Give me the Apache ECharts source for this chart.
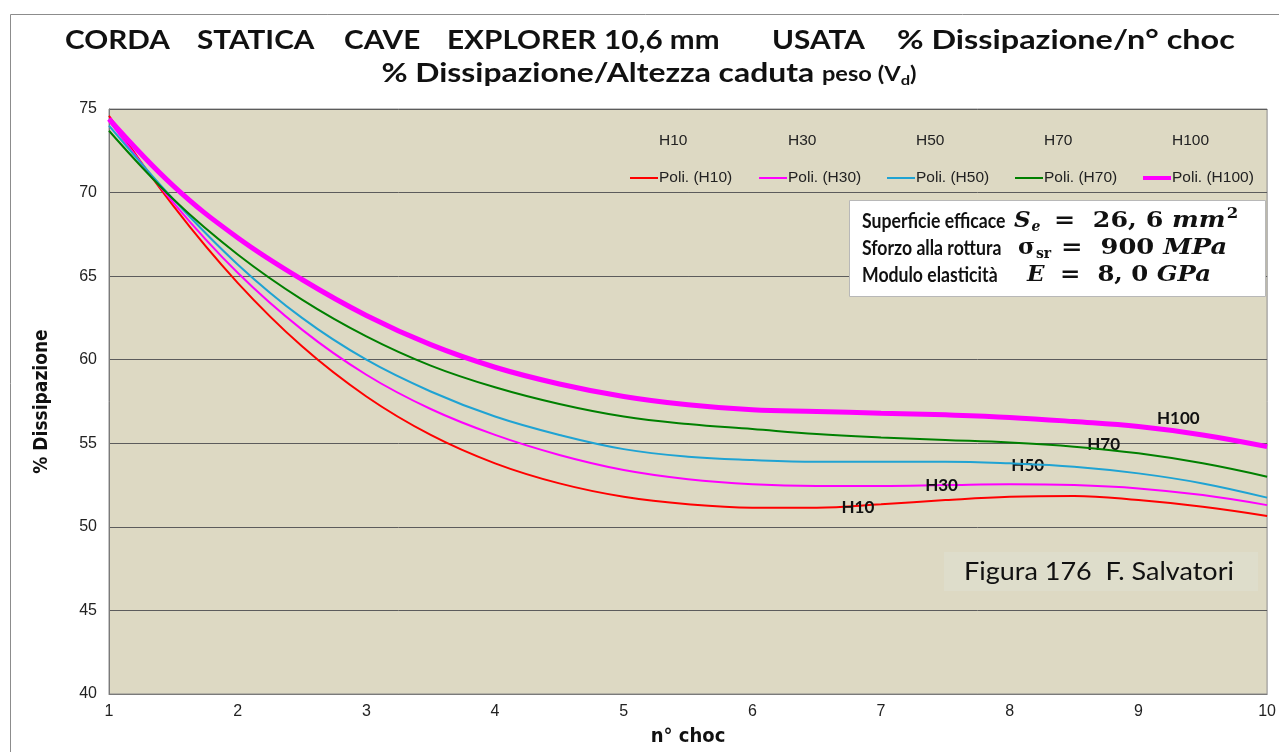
<!DOCTYPE html>
<html><head><meta charset="utf-8">
<script src="https://cdn.jsdelivr.net/npm/echarts@6/dist/echarts.min.js"></script>
<style>html,body{margin:0;padding:0;background:#fff}#c{width:1279px;height:752px}</style>
</head><body><div id="c"></div>
<script>
const xs = [1,1.5,2,2.5,3,3.5,4,4.5,5,5.5,6,6.5,7,7.5,8,8.5,9,9.5,10];
const H10  = [74.6,69.2,64.6,60.8,57.8,55.5,53.8,52.6,51.8,51.35,51.15,51.15,51.35,51.6,51.8,51.85,51.6,51.2,50.65];
const H30  = [74.3,69.4,65.2,61.8,59.1,57.05,55.5,54.3,53.4,52.85,52.55,52.45,52.45,52.5,52.55,52.5,52.3,51.9,51.3];
const H50  = [74.0,69.6,65.7,62.5,60.0,58.1,56.6,55.5,54.65,54.2,54.0,53.9,53.9,53.9,53.8,53.6,53.2,52.6,51.75];
const H70  = [73.7,69.6,66.3,63.6,61.4,59.65,58.35,57.35,56.6,56.15,55.85,55.55,55.35,55.2,55.05,54.8,54.4,53.8,53.0];
const H100 = [74.4,70.4,67.3,64.8,62.65,60.9,59.55,58.55,57.8,57.3,57.0,56.9,56.8,56.7,56.55,56.3,56.0,55.5,54.8];
const seriesNames = ['H10','H30','H50','H70','H100'];
const trendNames = ['Poli. (H10)','Poli. (H30)','Poli. (H50)','Poli. (H70)','Poli. (H100)'];
const seriesValues = [H10,H30,H50,H70,H100];
const labelAt = [[6.82,51.15],[7.47,52.45],[8.14,53.65],[8.73,54.9],[9.31,56.5]];
const xTicks = [1,2,3,4,5,6,7,8,9,10];
const yTicks = [40,45,50,55,60,65,70,75];
const titleWords = ['CORDA','STATICA','CAVE','EXPLORER','10,6 mm','USATA','% Dissipazione/n° choc'];

const colors = ['#FF0000','#FF00FF','#1FA3D3','#008000','#FF00FF'];
const widths = [2,2,2,2,5];
const legendLeft = [630,759,887,1015,1143];
const titleX = [65,197,344,447,604,772,897];
const titleScale = [1.1,1.1,1.1,1.1,1.1,1.1,1.2];
const thinIcon = 'path://M0,6h28v2h-28zM0,0h0.01v0.01h-0.01zM27.99,13.99h0.01v0.01h-0.01z';
const thickIcon = 'path://M0,5h28v4h-28zM0,0h0.01v0.01h-0.01zM27.99,13.99h0.01v0.01h-0.01z';

const chart = echarts.init(document.getElementById('c'));
const series = [];
seriesNames.forEach((n,i)=>{
  series.push({name:n,type:'line',data:[],symbol:'none',lineStyle:{opacity:0,width:0},itemStyle:{opacity:0}});
});
seriesNames.forEach((n,i)=>{
  series.push({
    name:trendNames[i],type:'line',smooth:0.4,symbol:'none',
    data: xs.map((x,j)=>[x,seriesValues[i][j]]),
    lineStyle:{color:colors[i],width:widths[i]},itemStyle:{color:colors[i]},
    z: 3+i,
    markPoint:{symbol:'circle',symbolSize:0,silent:true,
      data:[{coord:labelAt[i],value:n}],
      label:{show:true,position:'inside',formatter:n,fontFamily:'Lato',fontWeight:'bold',fontSize:17,color:'#111'}}
  });
});
const legends = seriesNames.map((n,i)=>({
  left:legendLeft[i],top:133,orient:'vertical',itemWidth:28,itemHeight:14,itemGap:21,padding:0,
  selectedMode:false,itemStyle:{borderWidth:0},
  data:[{name:n,icon:'none'},{name:trendNames[i],icon:i===4?thickIcon:thinIcon}],
  textStyle:{fontFamily:'Liberation Sans',fontSize:15.5,color:'#222',padding:[0,0,0,-4]}
}));

const graphics = [
  {type:'rect',shape:{x:10.5,y:14.5,width:1290,height:760},style:{fill:'none',stroke:'#8c8c8c',lineWidth:1},silent:true,z:-10},
  {type:'text',x:649,y:73,scaleX:1.18,style:{
    text:'{a|% Dissipazione/Altezza caduta }{b|peso (V}{c|d}{b|)}',
    align:'center',verticalAlign:'middle',
    rich:{a:{fontFamily:'Lato',fontWeight:'bold',fontSize:27,fill:'#111'},
          b:{fontFamily:'Lato',fontWeight:'bold',fontSize:20,fill:'#111',padding:[3,0,0,0]},
          c:{fontFamily:'Lato',fontWeight:'bold',fontSize:14,fill:'#111',padding:[15,0,0,0]}}}},
  {type:'rect',shape:{x:627,y:122,width:638,height:74},style:{fill:'#fff'},z:-1},
  {type:'rect',shape:{x:849.5,y:200.5,width:416,height:96},style:{fill:'#fff',stroke:'#b8b8b8',lineWidth:1},z:50},
  {type:'rect',shape:{x:944,y:552,width:314,height:39},style:{fill:'#DEDDCB'},z:50},
  {type:'text',x:1099,y:572,z:51,scaleX:1.08,style:{text:'Figura 176  F. Salvatori',fontFamily:'Lato',fontSize:25,fill:'#111',align:'center',verticalAlign:'middle'}}
];
titleWords.forEach((w,i)=>graphics.push({type:'text',x:titleX[i],y:40,scaleX:titleScale[i],
  style:{text:w,fontFamily:'Lato',fontWeight:'bold',fontSize:27,fill:'#111',align:'left',verticalAlign:'middle'}}));

const word = {fontFamily:'Lato',fontWeight:'bold',fontSize:20.5,fill:'#111',verticalAlign:'middle'};
const mN = {fontFamily:'DejaVu Serif',fontWeight:'bold',fontSize:23,fill:'#111'};
const mI = {fontFamily:'DejaVu Serif',fontStyle:'italic',fontWeight:'bold',fontSize:23,fill:'#111'};
const mSub = {fontFamily:'DejaVu Serif',fontWeight:'bold',fontSize:14,fill:'#111',padding:[12,0,0,1]};
const mSubI = {fontFamily:'DejaVu Serif',fontStyle:'italic',fontWeight:'bold',fontSize:14,fill:'#111',padding:[12,0,0,1]};
const mSup = {fontFamily:'DejaVu Serif',fontWeight:'bold',fontSize:15,fill:'#111',padding:[0,0,13,1]};
const rowsY = [221,248,275];
const rowWords = ['Superficie efficace','Sforzo alla rottura','Modulo elasticità'];
const symX = [1014,1018,1027];
const symTxt = ['{i|S}{si|e}','{n|σ}{s|sr}','{i|E}'];
const eqX = [1054,1061,1060];
const eqTxt = ['{n|=  26, 6 }{i|mm}{p|2}','{n|=  900 }{i|MPa}','{n|=  8, 0 }{i|GPa}'];
const eqScale = [1.1,1.12,1.06];
const rich = {n:mN,i:mI,s:mSub,si:mSubI,p:mSup};
rowsY.forEach((y,k)=>{
  graphics.push({type:'text',x:862,y:y,z:51,scaleX:0.86,style:Object.assign({text:rowWords[k]},word)});
  graphics.push({type:'text',x:symX[k],y:y,z:51,style:{text:symTxt[k],rich:rich,verticalAlign:'middle'}});
  graphics.push({type:'text',x:eqX[k],y:y,z:51,scaleX:eqScale[k],style:{text:eqTxt[k],rich:rich,verticalAlign:'middle'}});
});

chart.setOption({
  animation:false,
  backgroundColor:'#fff',
  grid:{left:109,right:7,top:109,bottom:56,show:true,backgroundColor:'#DDD9C3',borderColor:'#8a8a8a',borderWidth:1},
  legend:legends,
  xAxis:{type:'value',min:1,max:10,interval:1,
    name:'n° choc',nameLocation:'middle',nameGap:33,
    nameTextStyle:{fontFamily:"'Liberation Sans Narrow','DejaVu Sans Condensed','Liberation Sans'",fontWeight:'bold',fontSize:20,color:'#111'},
    axisLine:{lineStyle:{color:'#7a7a7a'}},axisTick:{show:false},splitLine:{show:false},
    axisLabel:{fontFamily:'Liberation Sans',fontSize:16,color:'#222',margin:10,formatter:v=>xTicks.includes(v)?String(v):''}},
  yAxis:{type:'value',min:40,max:75,interval:5,
    name:'% Dissipazione',nameLocation:'middle',nameGap:57,nameRotate:90,
    nameTextStyle:{fontFamily:"'Liberation Sans Narrow','DejaVu Sans Condensed','Liberation Sans'",fontWeight:'bold',fontSize:19,color:'#111'},
    axisLine:{show:true,lineStyle:{color:'#7a7a7a'}},axisTick:{show:false},
    splitLine:{lineStyle:{color:'#5c5c5c',width:1}},
    axisLabel:{fontFamily:'Liberation Sans',fontSize:16,color:'#222',margin:12,formatter:v=>yTicks.includes(v)?String(v):''}},
  graphic:graphics,
  series:series
});
</script></body></html>
